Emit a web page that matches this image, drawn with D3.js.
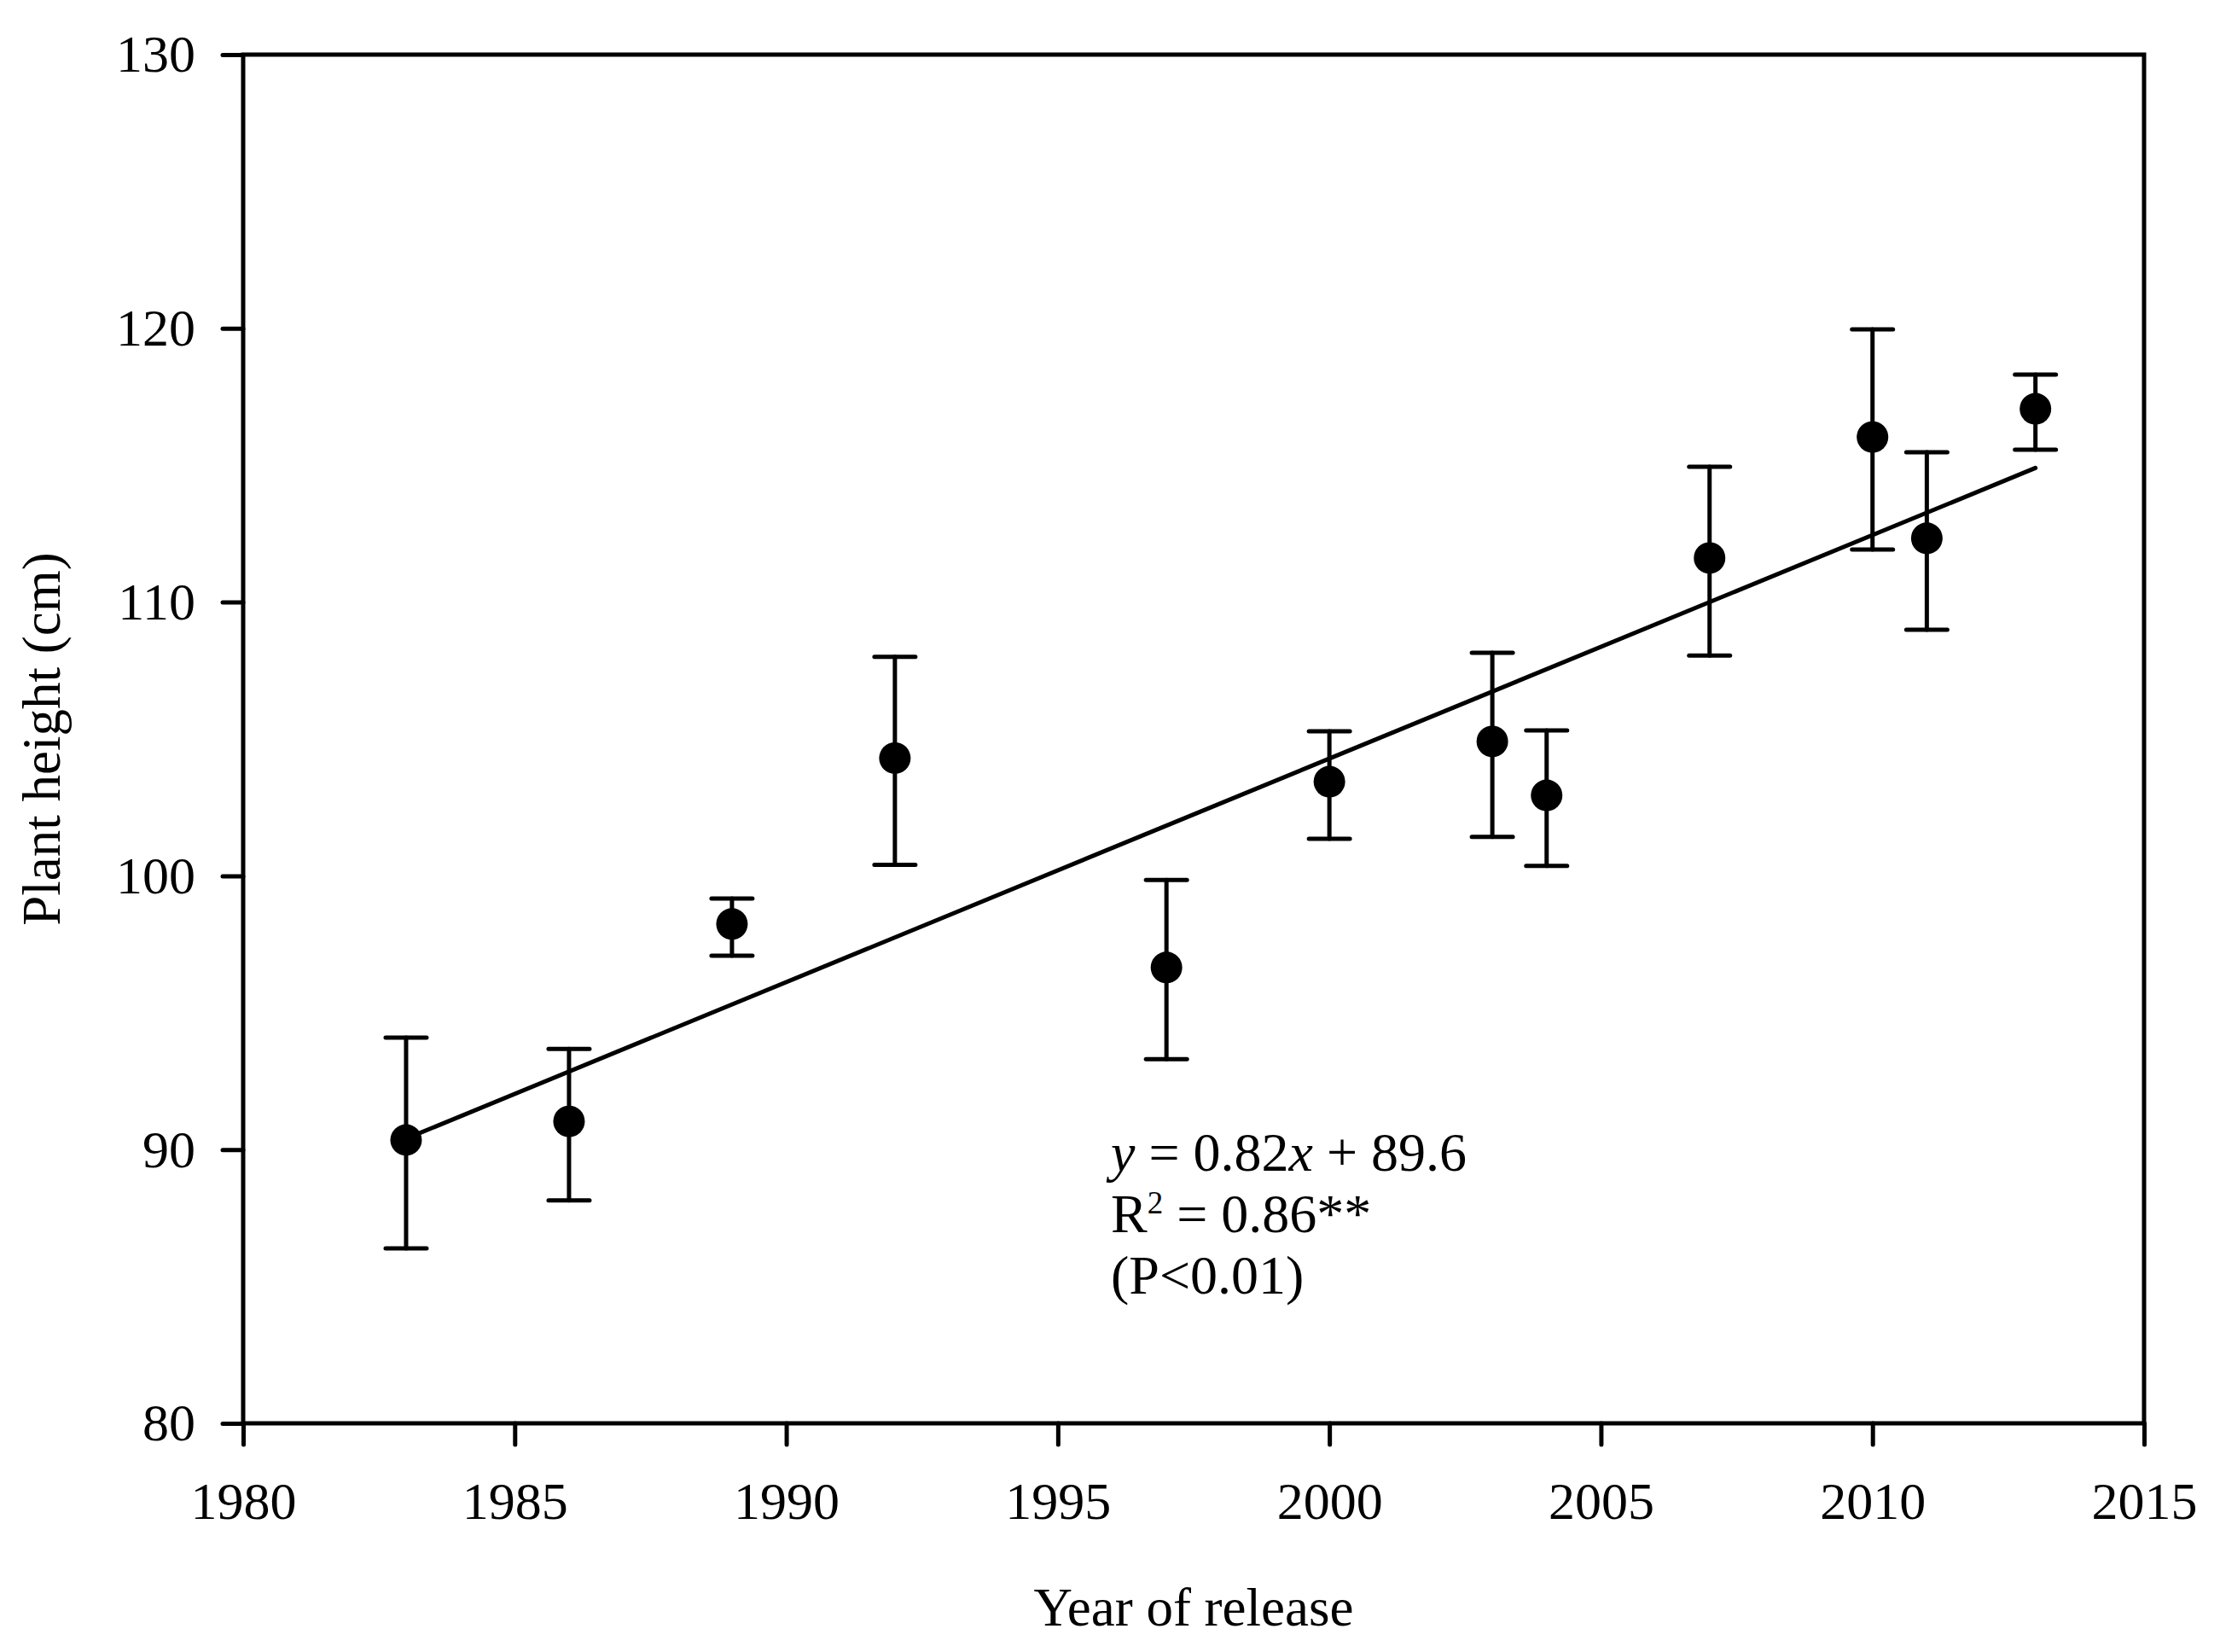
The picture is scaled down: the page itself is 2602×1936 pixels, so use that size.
<!DOCTYPE html>
<html>
<head>
<meta charset="utf-8">
<script src="https://cdn.jsdelivr.net/npm/d3@7"></script>
<style>
  body { margin: 0; background: #fff; }
  text { font-family: "Liberation Serif", "Times New Roman", serif; fill: #000; }
</style>
</head>
<body>
<svg id="chart" width="2602" height="1936"></svg>
<script>
// values
var years = [1983, 1986, 1989, 1992, 1997, 2000, 2003, 2004, 2007, 2010, 2011, 2013];
var heights = [90.35, 91.03, 98.24, 104.3, 96.65, 103.44, 104.91, 102.94, 111.61, 116.03, 112.33, 117.06];
var upper = [94.09, 93.68, 99.17, 108.0, 99.85, 105.28, 108.15, 105.31, 114.94, 119.96, 115.47, 118.31];
var lower = [86.39, 88.14, 97.08, 100.4, 93.3, 101.35, 101.42, 100.36, 108.05, 111.92, 108.99, 115.57];
var fitLine = [{ year: 1983, value: 90.4 }, { year: 2013, value: 114.9 }];
var xTicks = [1980, 1985, 1990, 1995, 2000, 2005, 2010, 2015];
var yTicks = [80, 90, 100, 110, 120, 130];

var margin = { top: 64, right: 89, bottom: 268, left: 285 };
var width = 2602 - margin.left - margin.right;
var height = 1936 - margin.top - margin.bottom;

var svg = d3.select('#chart');
var g = svg.append('g').attr('transform', 'translate(' + margin.left + ',' + margin.top + ')');

var x = d3.scaleLinear().domain([1980, 2015]).range([0, width]);
var y = d3.scaleLinear().domain([80, 130]).range([height, 0]);

// axes
var xAxis = g.append('g')
  .attr('transform', 'translate(0,' + height + ')')
  .call(d3.axisBottom(x).tickValues(xTicks).tickFormat(d3.format('d'))
    .tickSize(25).tickSizeOuter(0).tickPadding(43));
var yAxis = g.append('g')
  .call(d3.axisLeft(y).tickValues(yTicks).tickSize(24).tickSizeOuter(0).tickPadding(32));

[xAxis, yAxis].forEach(function(a) {
  a.select('.domain').remove();
  a.selectAll('.tick line').attr('stroke', '#000').attr('stroke-width', 5)
    .attr('stroke-linecap', 'round');
  a.selectAll('.tick text').attr('font-size', 62)
    .attr('font-family', '"Liberation Serif", serif').attr('fill', '#000');
});

// frame
g.append('rect')
  .attr('x', 0).attr('y', 0)
  .attr('width', width).attr('height', height)
  .attr('fill', 'none').attr('stroke', '#000').attr('stroke-width', 5);

// regression line
g.append('path')
  .datum(fitLine)
  .attr('fill', 'none').attr('stroke', '#000').attr('stroke-width', 5)
  .attr('stroke-linecap', 'round')
  .attr('d', d3.line().x(function(d) { return x(d.year); }).y(function(d) { return y(d.value); }));

// error bars
var points = years.map(function(yr, i) {
  return { year: yr, value: heights[i], hi: upper[i], lo: lower[i] };
});
var bars = g.append('g').attr('stroke', '#000').attr('stroke-width', 5)
  .attr('stroke-linecap', 'round');
var capHalf = 24;
points.forEach(function(d) {
  var cx = x(d.year);
  bars.append('line').attr('x1', cx).attr('x2', cx).attr('y1', y(d.hi)).attr('y2', y(d.lo));
  bars.append('line').attr('x1', cx - capHalf).attr('x2', cx + capHalf).attr('y1', y(d.hi)).attr('y2', y(d.hi));
  bars.append('line').attr('x1', cx - capHalf).attr('x2', cx + capHalf).attr('y1', y(d.lo)).attr('y2', y(d.lo));
});

// markers
g.selectAll('circle.pt')
  .data(points)
  .enter().append('circle')
  .attr('class', 'pt')
  .attr('cx', function(d) { return x(d.year); })
  .attr('cy', function(d) { return y(d.value); })
  .attr('r', 18.5)
  .attr('fill', '#000');

// equation text, one text block with three lines
var eq = svg.append('text').attr('font-size', 64).attr('x', 1302).attr('y', 1372);
eq.append('tspan').attr('font-style', 'italic').text('y');
eq.append('tspan').text(' = 0.82');
eq.append('tspan').attr('font-style', 'italic').text('x');
eq.append('tspan').text(' + 89.6');
eq.append('tspan').attr('x', 1302).attr('dy', 72).text('R');
eq.append('tspan').attr('font-size', 37).attr('dy', -22).text('2');
eq.append('tspan').attr('dy', 22).text(' = 0.86**');
eq.append('tspan').attr('x', 1302).attr('dy', 72).text('(P<0.01)');

// axis titles
svg.append('text')
  .attr('x', margin.left + width / 2).attr('y', 1905)
  .attr('text-anchor', 'middle').attr('font-size', 63)
  .text('Year of release');
svg.append('text')
  .attr('transform', 'translate(70,' + (margin.top + height / 2) + ') rotate(-90)')
  .attr('text-anchor', 'middle').attr('font-size', 63)
  .text('Plant height (cm)');
</script>
</body>
</html>
